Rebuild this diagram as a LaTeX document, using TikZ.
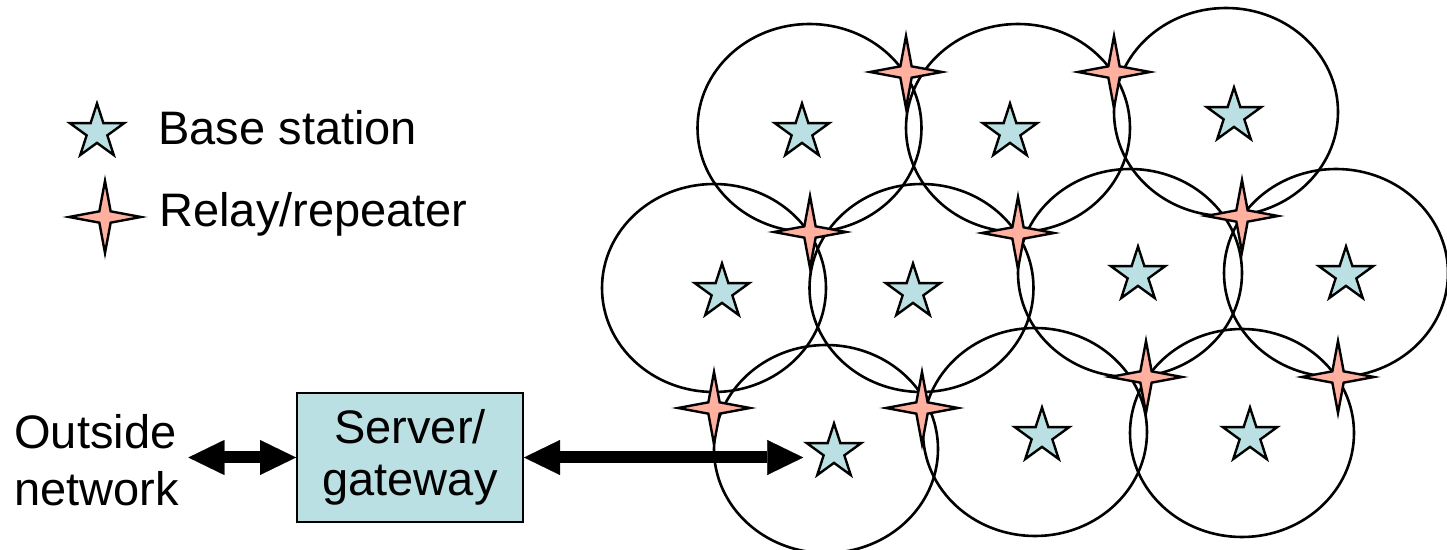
\documentclass[tikz,border=0pt]{standalone}
\usepackage{fontspec}
\setmainfont{Liberation Sans}
\usetikzlibrary{arrows.meta,positioning,shapes.geometric}
\definecolor{nwteal}{RGB}{187,224,227}
\definecolor{nwsalmon}{RGB}{255,176,158}

\begin{document}
\begin{tikzpicture}[x=0.5pt, y=-0.5pt,
    cell/.style={draw, line width=1.3pt},
    base/.style={star, star points=5, star point ratio=2.618, minimum size=28.5pt, inner sep=0pt, draw, line width=1.2pt, fill=nwteal},
    relay/.style={star, star points=4, star point ratio=4.5, minimum size=36pt, inner sep=0pt, draw, line width=1.2pt, fill=nwsalmon},
    txt/.style={inner sep=0pt, font=\fontsize{23.5pt}{28.5pt}\selectfont},
    gwbox/.style={rectangle, draw, line width=1pt, fill=nwteal, minimum width=113pt, minimum height=64.5pt, align=center, inner sep=0pt, font=\fontsize{23.5pt}{26pt}\selectfont},
    dbl/.style={{Triangle[length=18pt, width=17.5pt, line width=0.1pt]}-{Triangle[length=18pt, width=17.5pt, line width=0.1pt]}, line width=6pt}
]
  \useasboundingbox (0,0) rectangle (1447,550);
  % coverage cells
  \draw[cell] (809.5,128) ellipse [x radius=56pt, y radius=52pt];
  \draw[cell] (1018,128) ellipse [x radius=56pt, y radius=52pt];
  \draw[cell] (1226,112) ellipse [x radius=56pt, y radius=52pt];
  \draw[cell] (714,288) ellipse [x radius=56pt, y radius=52pt];
  \draw[cell] (921.5,288) ellipse [x radius=56pt, y radius=52pt];
  \draw[cell] (1130,273) ellipse [x radius=56pt, y radius=52pt];
  \draw[cell] (1336,273) ellipse [x radius=56pt, y radius=52pt];
  \draw[cell] (826,449) ellipse [x radius=56pt, y radius=52pt];
  \draw[cell] (1035,432) ellipse [x radius=56pt, y radius=52pt];
  \draw[cell] (1242,433) ellipse [x radius=56pt, y radius=52pt];

  % gateway and links
  \node[gwbox] (gw) at (410,457.5) {Server/\\gateway};
  \node[txt, align=left, anchor=north west] (outside) at (14,414) {Outside\\network};

  % base stations
  \node[base] (bsA) at (802,132) {};
  \node[base] (bsB) at (1010,132) {};
  \node[base] (bsC) at (1234,116) {};
  \node[base] (bsD) at (722,292) {};
  \node[base] (bsE) at (913,292) {};
  \node[base] (bsF) at (1138,275) {};
  \node[base] (bsG) at (1346,275) {};
  \node[base] (bsH) at (834,452) {};
  \node[base] (bsI) at (1042,436) {};
  \node[base] (bsJ) at (1250,436) {};

  \draw[dbl] ([xshift=4.5pt]outside.east |- gw.west) -- (gw.west);
  \draw[dbl] (gw.east) -- (gw.east -| bsH.outer point 2);

  % relays
  \node[relay] (rl1) at (906,72) {};
  \node[relay] (rl2) at (1114,72) {};
  \node[relay] (rl3) at (810,232) {};
  \node[relay] (rl4) at (1018,233) {};
  \node[relay] (rl5) at (1242,216) {};
  \node[relay] (rl6) at (714,408) {};
  \node[relay] (rl7) at (922,408) {};
  \node[relay] (rl8) at (1146,377) {};
  \node[relay] (rl9) at (1338,377) {};

  % legend
  \node[base] (keyBase) at (97,132) {};
  \node[relay] (keyRelay) at (105,217) {};
  \node[txt, anchor=base west] (keyBaseTxt) at (158,145) {Base station};
  \node[txt, anchor=base west] (keyRelayTxt) at (159,227) {Relay/repeater};
\end{tikzpicture}
\end{document}
